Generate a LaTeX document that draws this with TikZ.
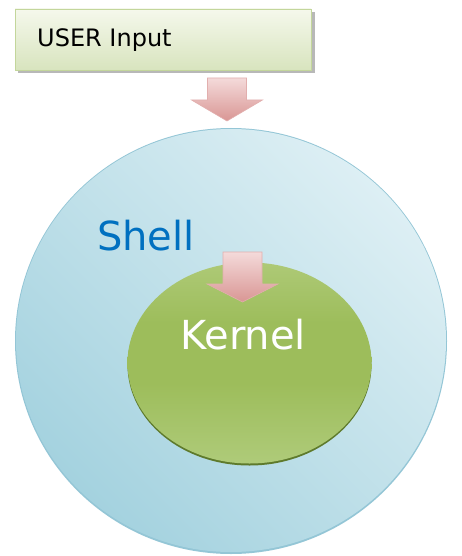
\documentclass[tikz,border=0pt]{standalone}
\usepackage{fontspec}
\setmainfont{DejaVu Sans}
\definecolor{pinktop}{HTML}{F4DADA}
\definecolor{pinkbot}{HTML}{D99694}
\definecolor{pinkedge}{HTML}{E2AFAE}
\definecolor{shellA}{HTML}{DDEFF4}
\definecolor{shellB}{HTML}{A4D2DF}
\definecolor{shellEdge}{HTML}{94C6D6}
\definecolor{kerTop}{HTML}{BCD48E}
\definecolor{kerMid}{HTML}{9DBD5B}
\definecolor{kerBot}{HTML}{C6DBA0}
\definecolor{kerBotMix}{HTML}{BAD48D}
\definecolor{kerRim}{HTML}{5E7A2C}
\definecolor{boxTop}{HTML}{F5F8EC}
\definecolor{boxBot}{HTML}{D8E4BE}
\definecolor{boxEdge}{HTML}{C3D69B}
\definecolor{shellblue}{HTML}{0070C0}
\pgfdeclareverticalshading{kernelshade}{100bp}{
  color(0bp)=(kerBot); color(12bp)=(kerBotMix); color(45bp)=(kerMid); color(60bp)=(kerMid); color(88bp)=(kerTop); color(100bp)=(kerTop)}
\begin{document}
\begin{tikzpicture}[x=1pt,y=-1pt,
  blockarrow/.style={top color=pinktop, bottom color=pinkbot, draw=pinkedge, line width=0.6pt},
  lbl/.style={inner sep=0pt, anchor=base west}]
\useasboundingbox (0,0) rectangle (461,556);
\fill[white] (0,0) rectangle (461,556);
% user input box
\fill[black!28] (18,12) rectangle (315,73);
\shade[top color=boxTop, bottom color=boxBot, draw=boxEdge, line width=0.6pt] (15,9) rectangle (311,70);
\node[lbl, font=\fontsize{24}{28}\selectfont] (user) at (37,47) {USER Input};
% shell
\fill[shellEdge] (231,341) ellipse [x radius=216, y radius=213];
\shade[top color=shellA, bottom color=shellB, shading angle=-45] (231,340.5) ellipse [x radius=215, y radius=211.5];
\node[lbl, text=shellblue, font=\fontsize{40}{46}\selectfont] (shell) at (97,250) {Shell};
% kernel
\fill[kerRim] (249.5,365) ellipse [x radius=122, y radius=100.5];
\shade[shading=kernelshade] (249.5,363) ellipse [x radius=122, y radius=100.5];
\node[lbl, text=white, font=\fontsize{40}{46}\selectfont] (kernel) at (180,349) {Kernel};
% arrows
\coordinate (a1) at (227,78);
\coordinate (a2) at (242.5,252);
\path[blockarrow] (a1) ++(-19.5,0) -- ++(39,0) -- ++(0,22) -- ++(16,0) -- ++(-35.5,21) -- ++(-35.5,-21) -- ++(16,0) -- cycle;
\path[blockarrow] (a2) ++(-19.5,0) -- ++(39,0) -- ++(0,32) -- ++(16,0) -- ++(-35.5,18) -- ++(-35.5,-18) -- ++(16,0) -- cycle;
\end{tikzpicture}
\end{document}
